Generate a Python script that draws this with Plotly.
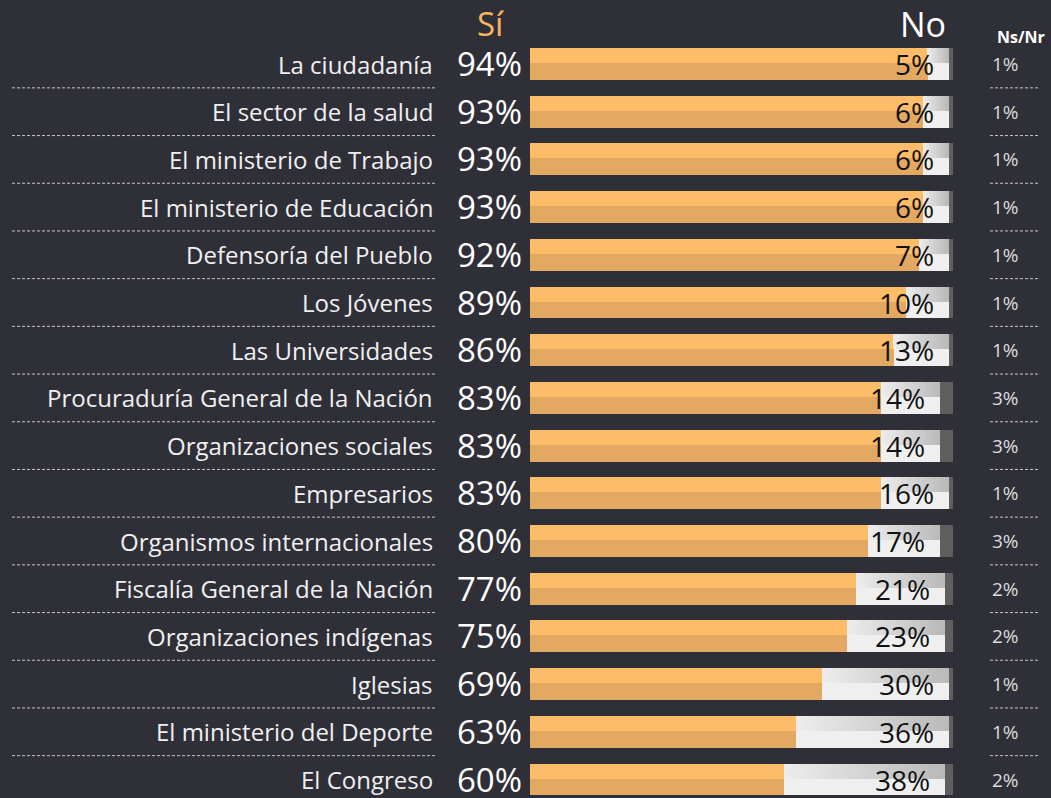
import plotly.graph_objects as go

categories = ["La ciudadanía", "El sector de la salud", "El ministerio de Trabajo",
              "El ministerio de Educación", "Defensoría del Pueblo", "Los Jóvenes",
              "Las Universidades", "Procuraduría General de la Nación",
              "Organizaciones sociales", "Empresarios", "Organismos internacionales",
              "Fiscalía General de la Nación", "Organizaciones indígenas", "Iglesias",
              "El ministerio del Deporte", "El Congreso"]
si_vals = [94, 93, 93, 93, 92, 89, 86, 83, 83, 83, 80, 77, 75, 69, 63, 60]
no_vals = [5, 6, 6, 6, 7, 10, 13, 14, 14, 16, 17, 21, 23, 30, 36, 38]
ns_vals = [1, 1, 1, 1, 1, 1, 1, 3, 3, 1, 3, 2, 2, 1, 1, 2]
headers = ["Sí", "No", "Ns/Nr"]

W, H = 1051, 798
X0PX, X100PX = 530, 953
PXPER = (X100PX - X0PX) / 100.0
ROW0PX, PITCH = 64, 47.7

xr0 = -X0PX / PXPER
xr1 = xr0 + W / PXPER
yr0 = -ROW0PX / PITCH
yr1 = yr0 + H / PITCH


def px2x(p):
    return xr0 + p / PXPER


def py2y(p):
    return yr0 + p / PITCH


BG = "#2f2f38"
FONT = "Open Sans"
rows = list(range(len(categories)))
ns_base = [s + n for s, n in zip(si_vals, no_vals)]

TOP_OFF, TOP_W = -0.335, 0.315
BOT_OFF, BOT_W = -0.02, 0.355

fig = go.Figure()


def add_bar(x, base, color, off, w):
    fig.add_trace(go.Bar(
        y=rows, x=x, base=base, orientation="h", offset=off, width=w,
        marker=dict(color=color, line=dict(width=0)),
        hoverinfo="skip", showlegend=False))


# Sí segment (two-tone)
add_bar(si_vals, [0] * len(rows), "#fdbd68", TOP_OFF, TOP_W)
add_bar(si_vals, [0] * len(rows), "#e3a862", BOT_OFF, BOT_W)

# No segment: bottom flat, top with gradient slices
add_bar(no_vals, si_vals, "#eeefee", BOT_OFF, BOT_W)
N = 30
c0, c1 = (236, 236, 236), (186, 186, 186)
for k in range(N):
    t = k / (N - 1)
    col = "rgb(%d,%d,%d)" % tuple(round(a + (b - a) * t) for a, b in zip(c0, c1))
    add_bar([n / N * 1.05 for n in no_vals],
            [s + n * k / N for s, n in zip(si_vals, no_vals)], col, TOP_OFF, TOP_W)

# Ns/Nr segment
add_bar(ns_vals, ns_base, "#5f5f5f", TOP_OFF, BOT_OFF + BOT_W - TOP_OFF)

ann = []
for i, (c, s, n, z) in enumerate(zip(categories, si_vals, no_vals, ns_vals)):
    ann.append(dict(x=px2x(435), y=i, text=c, xanchor="right", yanchor="middle",
                    showarrow=False, font=dict(family=FONT, size=24, color="#f0f0f0")))
    ann.append(dict(x=0, y=i - 0.02, xshift=-6, text=f"{s}%", xanchor="right",
                    yanchor="middle", showarrow=False, height=30, valign="middle",
                    font=dict(family=FONT, size=33, color="#ffffff")))
    ann.append(dict(x=s + n, y=i, xshift=-13, text=f"{n}%", xanchor="right",
                    yanchor="middle", showarrow=False, height=30, valign="middle",
                    font=dict(family=FONT, size=28, color="#111111")))
    ann.append(dict(x=px2x(990), y=i, text=f"{z}%", xanchor="left", yanchor="middle",
                    showarrow=False, font=dict(family=FONT, size=19, color="#dcdcdc")))

ann.append(dict(x=px2x(490), y=py2y(23), text=headers[0], xanchor="center",
                yanchor="middle", showarrow=False,
                font=dict(family=FONT, size=33, color="#f7b462")))
ann.append(dict(x=px2x(923), y=py2y(24), text=headers[1], xanchor="center",
                yanchor="middle", showarrow=False,
                font=dict(family=FONT, size=34, color="#ffffff")))
ann.append(dict(x=px2x(1021), y=py2y(37), text="<b>" + headers[2] + "</b>",
                xanchor="center", yanchor="middle", showarrow=False,
                font=dict(family=FONT, size=16, color="#ffffff")))

shapes = []
for i in rows[:-1]:
    for a, b in ((12, 435), (990, 1040)):
        shapes.append(dict(type="line", xref="x", yref="y", x0=px2x(a), x1=px2x(b),
                           y0=i + 0.5, y1=i + 0.5,
                           line=dict(color="#c8c8c8", width=1, dash="3px,2px")))

fig.update_layout(
    width=W, height=H, margin=dict(l=0, r=0, t=0, b=0),
    paper_bgcolor=BG, plot_bgcolor=BG, barmode="overlay", bargap=0,
    xaxis=dict(range=[xr0, xr1], visible=False, fixedrange=True),
    yaxis=dict(range=[yr1, yr0], visible=False, fixedrange=True),
    annotations=ann, shapes=shapes, showlegend=False,
)

fig.write_html(
    "out.html",
    config={"displayModeBar": False},
    post_script="document.body.style.margin='0';document.body.style.background='%s';" % BG,
)
